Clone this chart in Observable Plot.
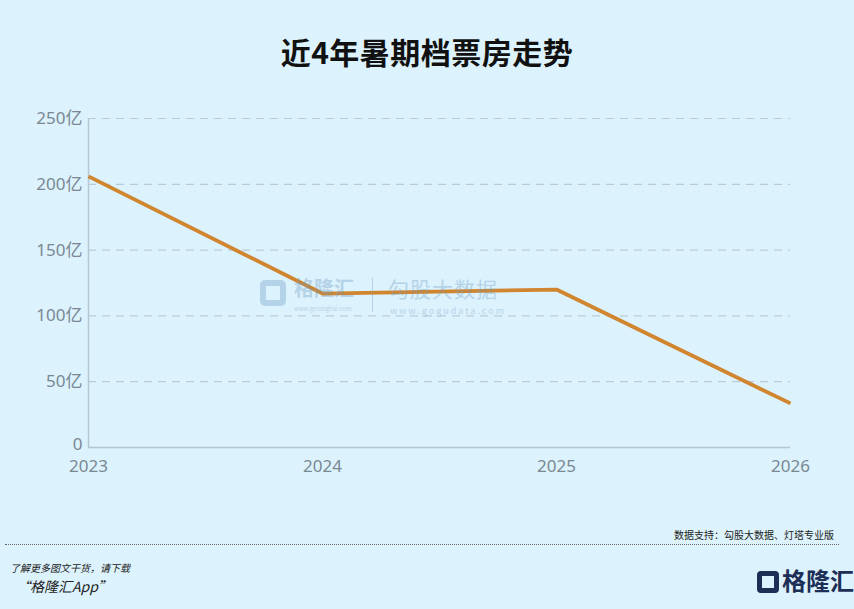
<!DOCTYPE html>
<html>
<head>
<meta charset="utf-8">
<script src="https://cdn.jsdelivr.net/npm/d3@7"></script>
<script src="https://cdn.jsdelivr.net/npm/@observablehq/plot@0.6"></script>
<style>
  html, body { margin: 0; padding: 0; }
  body { width: 854px; height: 609px; background: #dcf2fc; position: relative; overflow: hidden;
         font-family: "Noto Sans CJK SC", "Noto Sans", sans-serif; }
  #title { position: absolute; top: 29px; left: 0; width: 854px; text-align: center;
           font-size: 30px; font-weight: 600; color: #111; letter-spacing: 0.5px; }
  #chart { position: absolute; top: 100px; left: 0; }
  #wm { position: absolute; left: 260px; top: 276px; width: 260px; height: 44px; opacity: 0.35; color: #6f9cc4; pointer-events: none; }
  #source { position: absolute; top: 527px; right: 20px; font-size: 10px; color: #222; }
  #rule { position: absolute; top: 544px; left: 5px; width: 834px; border-top: 1px dotted #666; }
  #more { position: absolute; top: 560px; left: 10px; font-size: 10px; font-style: italic; color: #222; }
  #app { position: absolute; top: 576px; left: 16px; font-size: 14px; font-style: italic; color: #222; }
  #logo { position: absolute; top: 562px; left: 757px; font-size: 24px; font-weight: 700; color: #1d2f57; }
</style>
</head>
<body>
<div id="title">近4年暑期档票房走势</div>
<div id="chart"></div>
<div id="wm">
  <div style="position:absolute;left:0;top:4px;width:26px;height:26px;border:6px solid #6f9cc4;border-radius:5px;box-sizing:border-box;"></div>
  <div style="position:absolute;left:34px;top:0;font-size:20px;line-height:24px;font-weight:700;">格隆汇</div>
  <div style="position:absolute;left:34px;top:29px;font-size:6px;line-height:8px;">www.gelonghui.com</div>
  <div style="position:absolute;left:112px;top:2px;height:34px;border-left:1px solid #6f9cc4;"></div>
  <div style="position:absolute;left:128px;top:0;font-size:21px;line-height:24px;letter-spacing:1px;">勾股大数据</div>
  <div style="position:absolute;left:130px;top:29px;font-size:9px;line-height:11px;letter-spacing:2px;">www.gogudata.com</div>
</div>
<div id="source">数据支持：勾股大数据、灯塔专业版</div>
<div id="rule"></div>
<div id="more">了解更多图文干货，请下载</div>
<div id="app">“格隆汇App”</div>
<div id="logo"><span style="display:inline-block;width:22px;height:22px;border:5px solid #1d2f57;border-radius:4px;box-sizing:border-box;vertical-align:-3px;margin-right:3px;"></span>格隆汇</div>
<script>
const years = [2023, 2024, 2025, 2026];
const boxOffice = [206, 117, 120, 33.5];
const yTicks = [0, 50, 100, 150, 200, 250];
const yTickLabels = ["0", "50亿", "100亿", "150亿", "200亿", "250亿"];

const data = years.map((y, i) => ({year: y, value: boxOffice[i]}));
const fmtY = (d) => yTickLabels[yTicks.indexOf(d)];

const chart = Plot.plot({
  width: 854,
  height: 380,
  marginLeft: 88,
  marginRight: 64,
  marginTop: 18,
  marginBottom: 33,
  style: {background: "transparent", fontFamily: "'Noto Sans', 'Noto Sans CJK SC', sans-serif", fontSize: "17px", color: "#7a8894"},
  x: {domain: [2023, 2026], label: null},
  y: {domain: [0, 250], label: null},
  marks: [
    Plot.gridY(yTicks.slice(1), {stroke: "#b9cbd6", strokeOpacity: 1, strokeDasharray: "8,6", strokeWidth: 1.2, x1: 2023, x2: 2026}),
    Plot.ruleX([2023], {stroke: "#b3c6d2", strokeWidth: 1.5}),
    Plot.ruleY([0], {stroke: "#b3c6d2", strokeWidth: 1.5}),
    Plot.axisY({ticks: yTicks.slice(1), tickFormat: fmtY, tickSize: 0, tickPadding: 6, fill: "#7a8894", fontSize: 17}),
    Plot.axisY({ticks: [0], tickFormat: fmtY, tickSize: 0, tickPadding: 6, dy: -3, fill: "#7a8894", fontSize: 17}),
    Plot.axisX({ticks: years, tickFormat: (d) => String(d), tickSize: 0, tickPadding: 12, fill: "#7a8894", fontSize: 17}),
    Plot.line(data, {x: "year", y: "value", stroke: "#d0852e", strokeWidth: 3.8, strokeLinejoin: "miter", strokeLinecap: "butt"})
  ]
});
document.getElementById("chart").appendChild(chart);
</script>
</body>
</html>
